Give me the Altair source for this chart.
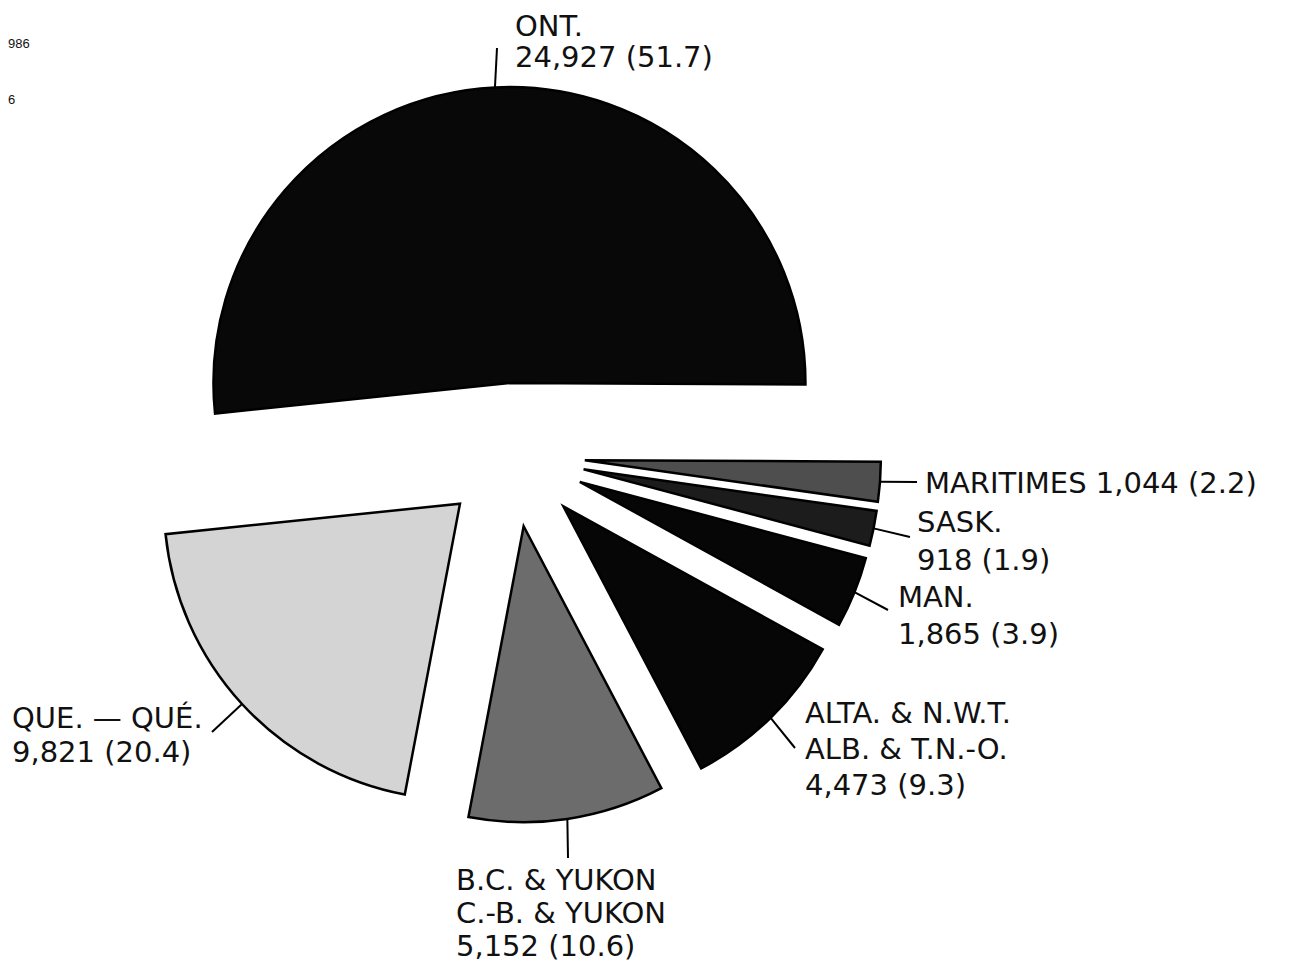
import altair as alt
import pandas as pd

# ---- data ----
REGIONS = ["ONT.", "MARITIMES", "SASK.", "MAN.", "ALTA. & N.W.T.", "B.C. & YUKON", "QUE. — QUÉ."]
VALUES = [24927, 1044, 918, 1865, 4473, 5152, 9821]
PERCENTS = [51.7, 2.2, 1.9, 3.9, 9.3, 10.6, 20.4]

LABEL_LINES = [
    ["ONT.", "24,927 (51.7)"],
    ["MARITIMES 1,044 (2.2)"],
    ["SASK.", "918 (1.9)"],
    ["MAN.", "1,865 (3.9)"],
    ["ALTA. & N.W.T.", "ALB. & T.N.-O.", "4,473 (9.3)"],
    ["B.C. & YUKON", "C.-B. & YUKON", "5,152 (10.6)"],
    ["QUE. — QUÉ.", "9,821 (20.4)"],
]
CORNER_TEXT = ["986", "6"]

# ---- style / layout ----
FILLS = ["#080808", "#4e4e4e", "#1c1c1c", "#060606", "#060606", "#6c6c6c", "#d4d4d4"]
CX, CY = 505, 447          # pie centre (px)
EXPLODE = 72               # radial offset of every slice (px)
RADIUS = 296
START = -1.6738            # start angle of first slice (rad, 0 = 12 o'clock)
FONT = "DejaVu Sans"
FS = 29

# leader line end points and label anchors (px)
LEADER_END = [(489, 40), (909, 474), (902, 529), (880, 602), (787, 740), (560, 850), (204, 724)]
LABEL_ANCHOR = [(507, 28), (917, 485), (909, 524), (890, 599), (797, 715), (448, 882), (4, 720)]
LINE_STEP = [31, 0, 38, 36.5, 36, 33, 34]
CORNER_POS = [(0, 40), (0, 96)]

df = pd.DataFrame({
    "region": REGIONS,
    "value": VALUES,
    "pct": PERCENTS,
    "order": list(range(len(REGIONS))),
    "ex": [p[0] for p in LEADER_END],
    "ey": [p[1] for p in LEADER_END],
})

rows = []
for i, lines in enumerate(LABEL_LINES):
    ax, ay = LABEL_ANCHOR[i]
    for j, t in enumerate(lines):
        rows.append({"text": t, "x": ax, "y": ay + j * LINE_STEP[i]})
labels = pd.DataFrame(rows)
corner = pd.DataFrame({"text": CORNER_TEXT,
                       "x": [p[0] for p in CORNER_POS],
                       "y": [p[1] for p in CORNER_POS]})

base = (
    alt.Chart(df)
    .transform_joinaggregate(total="sum(value)")
    .transform_window(cum="sum(value)", sort=[alt.SortField("order")], frame=[None, 0])
    .transform_calculate(
        start=f"{START} + 2*PI*(datum.cum - datum.value)/datum.total",
        end=f"{START} + 2*PI*datum.cum/datum.total",
    )
    .transform_calculate(mid="(datum.start + datum.end)/2")
    .transform_calculate(
        cx=f"{CX} + {EXPLODE}*sin(datum.mid)",
        cy=f"{CY} - {EXPLODE}*cos(datum.mid)",
    )
    .transform_calculate(
        sx=f"datum.cx + {RADIUS}*sin(datum.mid)",
        sy=f"datum.cy - {RADIUS}*cos(datum.mid)",
    )
)

slices = base.mark_arc(radius=RADIUS, stroke="black", strokeWidth=2.5, strokeJoin="miter").encode(
    x=alt.X("cx:Q", scale=None),
    y=alt.Y("cy:Q", scale=None),
    theta=alt.Theta("start:Q", scale=None),
    theta2=alt.Theta2("end:Q"),
    color=alt.Color("region:N", scale=alt.Scale(domain=REGIONS, range=FILLS), legend=None),
)

leaders = base.mark_rule(color="black", strokeWidth=2).encode(
    x=alt.X("sx:Q", scale=None),
    y=alt.Y("sy:Q", scale=None),
    x2=alt.X2("ex:Q"),
    y2=alt.Y2("ey:Q"),
)

text = alt.Chart(labels).mark_text(
    align="left", baseline="alphabetic", font=FONT, fontSize=FS, color="#111111"
).encode(
    x=alt.X("x:Q", scale=None),
    y=alt.Y("y:Q", scale=None),
    text="text:N",
)

corner_text = alt.Chart(corner).mark_text(
    align="left", baseline="alphabetic", font="Liberation Sans", fontSize=13, color="#111111"
).encode(
    x=alt.X("x:Q", scale=None),
    y=alt.Y("y:Q", scale=None),
    text="text:N",
)

chart = (
    alt.layer(slices, leaders, text, corner_text)
    .properties(width=1272, height=957, padding=0,
                autosize=alt.AutoSizeParams(type="none"),
                view=alt.ViewBackground(stroke="transparent", strokeWidth=0))
    .configure_view(stroke="transparent", strokeWidth=0)
    .configure(background="white")
)

chart.save("out.html", embed_options={"renderer": "svg", "actions": False})
